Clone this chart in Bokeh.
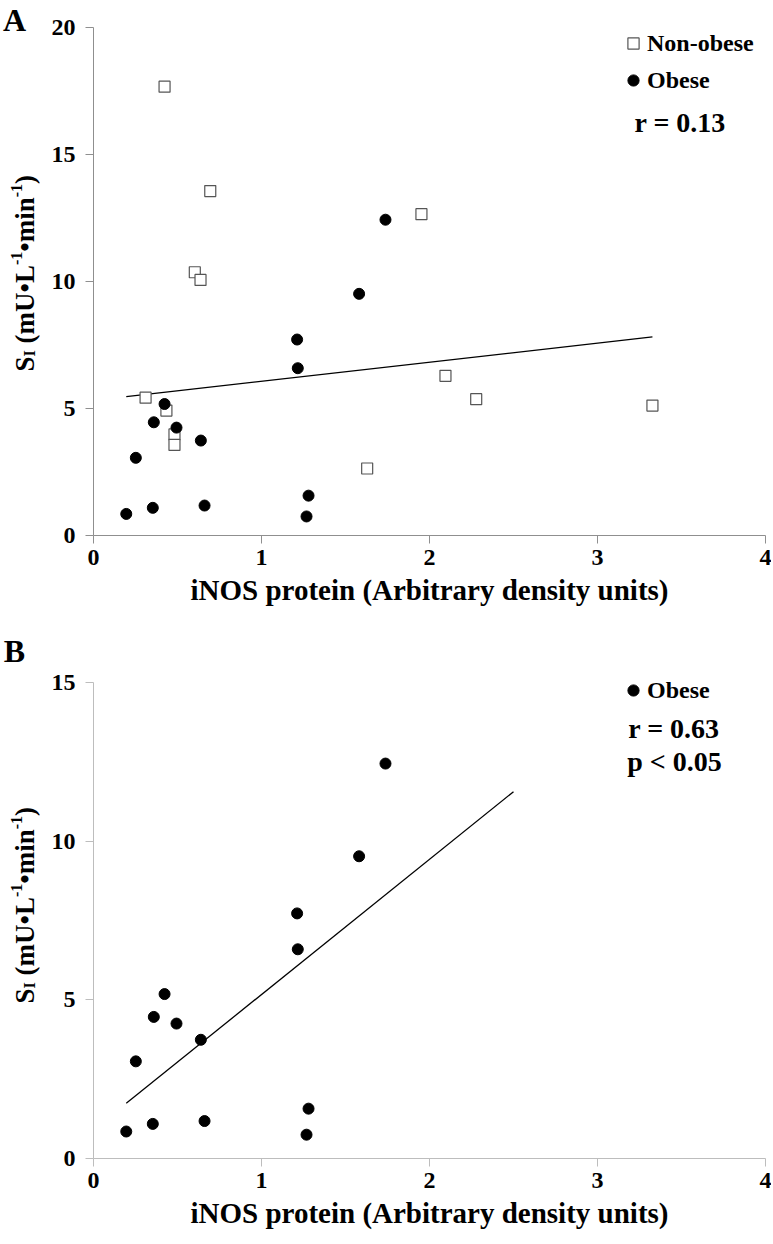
import numpy as np
from bokeh.plotting import figure
from bokeh.models import Range1d, FixedTicker, Label, Legend, LegendItem
from bokeh.layouts import column, row
from bokeh.embed import file_html
from bokeh.resources import INLINE

# ---------------- data ----------------
nonobese_x = [0.423, 0.695, 1.952, 0.603, 0.637, 0.310, 0.434, 0.482, 0.482, 1.629, 2.095, 2.278, 3.327]
nonobese_y = [17.68, 13.57, 12.66, 10.37, 10.07, 5.43, 4.92, 3.98, 3.57, 2.64, 6.29, 5.37, 5.12]
obese_x = [1.738, 1.581, 1.212, 1.216, 0.423, 0.359, 0.494, 0.639, 0.252, 1.280, 0.195, 0.353, 0.661, 1.268]
obese_y = [12.44, 9.52, 7.72, 6.59, 5.18, 4.46, 4.25, 3.74, 3.06, 1.57, 0.85, 1.09, 1.18, 0.75]
x_ticks = [0, 1, 2, 3, 4]
y_ticks_a = [0, 5, 10, 15, 20]
y_ticks_b = [0, 5, 10, 15]
stats_a = ["r = 0.13"]
stats_b = ["r = 0.63", "p < 0.05"]
x_title = "iNOS protein (Arbitrary density units)"
trend_b_end = 2.5  # Excel trendline forward extent

FONT = "Liberation Serif"
SIDE_W = 40
# Times New Roman Bold advance widths (per 1000 em) for the y-title pieces
W = {'S': 556, 'I': 389, ' ': 250, '(': 333, 'm': 833, 'U': 722, '•': 350,
     'L': 667, '-': 333, '1': 500, 'i': 278, 'n': 556, ')': 333}


def text_w(s, size):
    return sum(W.get(c, 500) for c in s) * size / 1000.0


def make_panel(border_top, border_bottom, frame_h, y_top, y_max, y_ticks, axis_color):
    p = figure(frame_width=672, frame_height=frame_h,
               x_range=Range1d(0, 4), y_range=Range1d(0, y_top),
               output_backend="svg", toolbar_location=None,
               min_border_left=93 - SIDE_W, min_border_right=6,
               min_border_top=border_top, min_border_bottom=border_bottom)
    p.outline_line_color = None
    p.background_fill_color = "white"
    p.border_fill_color = "white"
    p.xgrid.visible = False
    p.ygrid.visible = False
    p.xaxis.ticker = FixedTicker(ticks=x_ticks)
    p.yaxis.ticker = FixedTicker(ticks=y_ticks)
    p.yaxis.bounds = (0, y_max)
    for ax in (p.xaxis[0], p.yaxis[0]):
        ax.axis_line_color = axis_color
        ax.axis_line_width = 1
        ax.major_tick_line_color = axis_color
        ax.minor_tick_line_color = None
        ax.major_tick_out = 8
        ax.major_tick_in = 0
        ax.major_label_text_font = FONT
        ax.major_label_text_font_style = "bold"
        ax.major_label_text_font_size = "24px"
        ax.major_label_text_color = "black"
    p.yaxis.major_label_standoff = 10
    p.xaxis.major_label_standoff = 6
    p.xaxis.axis_label = x_title
    p.xaxis.axis_label_text_font = FONT
    p.xaxis.axis_label_text_font_style = "bold"
    p.xaxis.axis_label_text_font_size = "29px"
    p.xaxis.axis_label_text_color = "black"
    p.xaxis.axis_label_standoff = 6
    return p


def side_panel(h, border_top, border_bottom, frame_h, letter, letter_y, title_y):
    """Narrow strip left of a panel; its frame matches the panel's frame and its
    y data units are pixels measured from the strip's bottom edge."""
    s = figure(width=SIDE_W, frame_height=frame_h,
               x_range=Range1d(0, SIDE_W), y_range=Range1d(border_bottom, border_bottom + frame_h),
               x_axis_type=None, y_axis_type=None, output_backend="svg",
               toolbar_location=None, min_border_left=0, min_border_right=0,
               min_border_top=border_top, min_border_bottom=border_bottom)
    s.outline_line_color = None
    s.background_fill_color = "white"
    s.border_fill_color = "white"
    s.add_layout(Label(x=14, y=h - letter_y, text=letter, text_align="center",
                       text_baseline="middle", text_font=FONT, text_font_style="bold",
                       text_font_size="32px", text_color="black"))
    main, small = 27, 16
    pieces = [("S", main, 0), ("I", small, -4), (" ", main, 0), ("(mU•L", main, 0),
              ("-1", small, 9), ("•min", main, 0), ("-1", small, 9), (")", main, 0)]
    adv = 0.0
    y0 = h - title_y
    for txt, size, shift in pieces:
        if txt.strip():
            s.add_layout(Label(x=24.5 - shift, y=y0 + adv, text=txt,
                               angle=np.pi / 2, text_align="left", text_baseline="alphabetic",
                               text_font=FONT, text_font_style="bold",
                               text_font_size=f"{size}px", text_color="black"))
        adv += text_w(txt, size)
    return s


def big_label(p, x, y, txt, size):
    p.add_layout(Label(x=x, y=y, text=txt, text_align="left", text_baseline="middle",
                       text_font=FONT, text_font_style="bold",
                       text_font_size=f"{size}px", text_color="black"))


def legend(items, loc):
    return Legend(items=items, location=loc, padding=0, margin=0, spacing=3,
                  glyph_width=28, glyph_height=34, label_height=34, label_standoff=-1,
                  label_text_font=FONT, label_text_font_style="bold",
                  label_text_font_size="24px", label_text_color="black",
                  background_fill_alpha=0, border_line_color=None)


# ---------------- panel A ----------------
TA, BA, FA = 7, 80, 528
HA = TA + FA + BA
pa = make_panel(TA, BA, FA, 20.8, 20, y_ticks_a, "#8f8f8f")
all_x = np.array(nonobese_x + obese_x)
all_y = np.array(nonobese_y + obese_y)
ka, ba = np.polyfit(all_x, all_y, 1)
xa = np.array([all_x.min(), all_x.max()])
pa.line(xa, ka * xa + ba, line_color="black", line_width=1.3)
r_sq = pa.scatter(nonobese_x, nonobese_y, marker="square", size=11,
                  fill_color="white", line_color="#555555", line_width=1.2)
r_ci = pa.scatter(obese_x, obese_y, marker="circle", size=11,
                  fill_color="black", line_color="black")
pa.add_layout(legend([LegendItem(label="Non-obese", renderers=[r_sq]),
                      LegendItem(label="Obese", renderers=[r_ci])], (526, 438)), "center")
big_label(pa, 3.22, 16.27, stats_a[0], 28)
sa = side_panel(HA, TA, BA, FA, "A", 19, 371)

# ---------------- panel B ----------------
TB, BB, FB = 16, 78, 527
HB = TB + FB + BB
pb = make_panel(TB, BB, FB, 16.6, 15, y_ticks_b, "#bdbdbd")
ox = np.array(obese_x)
oy = np.array(obese_y)
kb, bb = np.polyfit(ox, oy, 1)
xb = np.array([ox.min(), trend_b_end])
pb.line(xb, kb * xb + bb, line_color="black", line_width=1.3)
r_cb = pb.scatter(obese_x, obese_y, marker="circle", size=11,
                  fill_color="black", line_color="black")
pb.add_layout(legend([LegendItem(label="Obese", renderers=[r_cb])], (526, 451)), "center")
big_label(pb, 3.183, 13.55, stats_b[0], 28)
big_label(pb, 3.177, 12.52, stats_b[1], 28)
sb = side_panel(HB, TB, BB, FB, "B", 650 - HA, 1003 - HA)

layout = column(row(sa, pa, spacing=0), row(sb, pb, spacing=0), spacing=0)
open("out.html", "w").write(file_html(layout, INLINE))
